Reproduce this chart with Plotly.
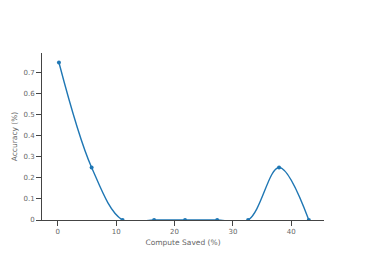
import plotly.graph_objects as go

compute_saved = [0.2, 5.8, 11.1, 16.5, 21.8, 27.3, 32.6, 37.9, 43.0]
accuracy = [0.75, 0.25, 0.0, 0.0, 0.0, 0.0, 0.0, 0.25, 0.0]

fig = go.Figure(go.Scatter(
    x=compute_saved, y=accuracy, mode="lines+markers",
    line=dict(shape="spline", color="#1f77b4", width=1.4),
    marker=dict(size=4, color="#1f77b4"),
))

axis_common = dict(showline=True, linecolor="#444", linewidth=1, ticks="outside",
                   ticklen=5, tickcolor="#444", showgrid=False, zeroline=False,
                   automargin=False,
                   tickfont=dict(size=7, color="#666"), title_font=dict(size=7.5, color="#666"))

fig.update_layout(
    width=366, height=261,
    margin=dict(l=34, r=50, t=45, b=49),
    plot_bgcolor="white", paper_bgcolor="white",
    font=dict(family="DejaVu Sans, Verdana, sans-serif", color="#666"),
    showlegend=False,
    xaxis=dict(range=[-2.7, 45.6], tickvals=[0, 10, 20, 30, 40],
               title=dict(text="Compute Saved (%)", standoff=4), **axis_common),
    yaxis=dict(range=[0, 0.795], tickvals=[0, 0.1, 0.2, 0.3, 0.4, 0.5, 0.6, 0.7],
               title=dict(text="Accuracy (%)", standoff=4), **axis_common),
)

fig.write_html("out.html")
